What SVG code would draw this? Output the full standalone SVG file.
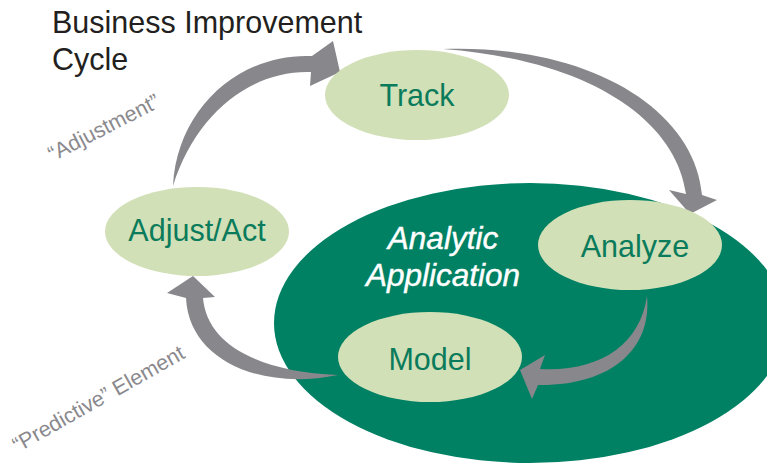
<svg xmlns="http://www.w3.org/2000/svg" width="767" height="465" viewBox="0 0 767 465">
<style>
.node{fill:#d2e0b7}
.lbl{font-family:"Liberation Sans",Arial,sans-serif;font-size:30.5px;fill:#0a7b5b;text-anchor:middle}
.arrow{fill:#88878c}
.side{font-family:"Liberation Sans",Arial,sans-serif;font-size:21.5px;fill:#8a898d;text-anchor:middle}
.title{font-family:"Liberation Sans",Arial,sans-serif;font-size:30.5px;fill:#231f20}
.app{font-family:"Liberation Sans",Arial,sans-serif;font-size:31.5px;font-style:italic;fill:#ffffff;text-anchor:middle;stroke:#ffffff;stroke-width:0.4}
</style>
<rect width="767" height="465" fill="#ffffff"/>
<g id="title">
<text class="title" x="52" y="33">Business Improvement</text>
<text class="title" x="52" y="70">Cycle</text>
</g>
<g id="analytic-application">
<ellipse cx="530" cy="323" rx="256" ry="140" fill="#008163"/>
<text class="app" x="443" y="249">Analytic</text>
<text class="app" x="443" y="286">Application</text>
</g>
<g id="connectors">
<path class="arrow" d="M173,186 C177,108 240,53 312,56 L333,41 L340,72 L310,86 L311,72 C250,70 195,115 173,186 Z"/>
<path class="arrow" d="M443,49 C590,44 695,110 702,195 L717,200 L690,214 L669,190 L686,194 C676,120 590,60 443,49 Z"/>
<path class="arrow" d="M647,296 C652,350 610,386 538,385 L532,399 L520,370 L545,355 L540,369 C600,372 640,345 647,296 Z"/>
<path class="arrow" d="M338,375 C260,391 189,360 186,298 L167,293 L193,276 L215,297 L203,298 C207,345 260,372 338,375 Z"/>
</g>
<g id="track">
<ellipse class="node" cx="417" cy="95" rx="92" ry="45"/>
<text class="lbl" x="417" y="106">Track</text>
</g>
<g id="analyze">
<ellipse class="node" cx="630" cy="245" rx="92" ry="45"/>
<text class="lbl" x="635" y="257">Analyze</text>
</g>
<g id="model">
<ellipse class="node" cx="430" cy="357" rx="92" ry="45"/>
<text class="lbl" x="430" y="370">Model</text>
</g>
<g id="adjust-act">
<ellipse class="node" cx="197" cy="231.5" rx="92" ry="44.5"/>
<text class="lbl" x="197" y="241">Adjust/Act</text>
</g>
<g id="labels">
<text class="side" transform="translate(107,134) rotate(-27)">“Adjustment”</text>
<text class="side" transform="translate(102,405) rotate(-29.5)">“Predictive” Element</text>
</g>
</svg>
